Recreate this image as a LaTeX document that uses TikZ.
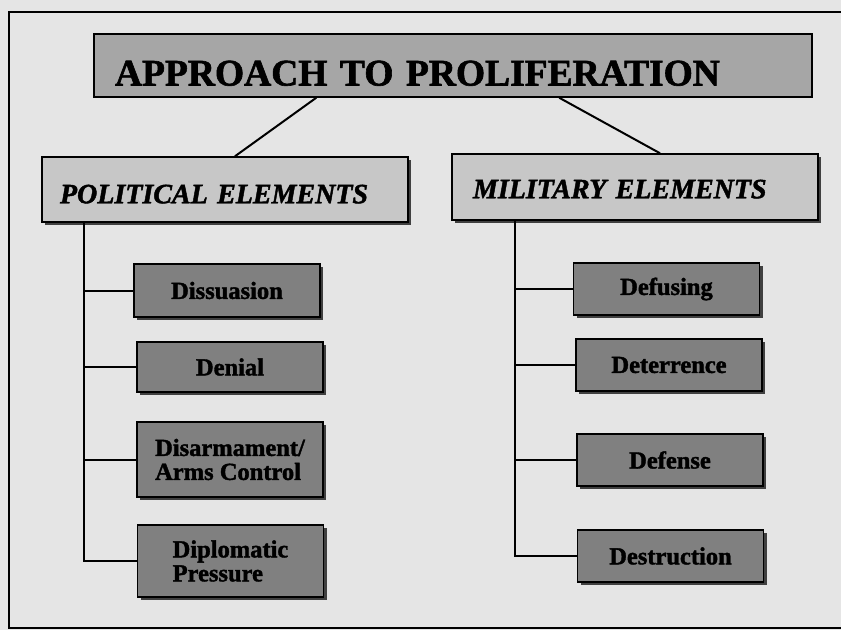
\documentclass[tikz,border=0pt]{standalone}
\usepackage{fontspec}
\setmainfont{Liberation Serif}[BoldFeatures={FakeBold=1.6},BoldItalicFeatures={FakeBold=1.6}]
\usetikzlibrary{shadows}
\begin{document}
\begin{tikzpicture}[x=1pt,y=-1pt,
  box/.style={draw=black,line width=1.5pt,inner sep=0pt},
  shad/.style={drop shadow={shadow xshift=3pt,shadow yshift=-3pt,fill=black!75,opacity=1}},
  titlebox/.style={box,fill=black!35,text width=676pt,inner xsep=21pt,align=left,
    minimum height=63pt,text height=40pt,text depth=0pt,
    font=\fontsize{37.5}{40}\selectfont\bfseries},
  elem/.style={box,shad,fill=black!22,align=left,minimum height=65pt,text depth=0pt,
    font=\fontsize{28}{30}\selectfont\bfseries\itshape},
  item/.style={box,shad,fill=black!50,align=left,minimum width=186pt,
    font=\fontsize{24.5}{24}\selectfont\bfseries},
  link/.style={line width=2pt}]
\fill[black!10] (0,0) rectangle (841,630);
\useasboundingbox (0,0) rectangle (841,630);
\draw[line width=1.5pt] (845,12) -- (9,12) -- (9,628) -- (845,628);

\node[titlebox] (title) at (453,65.5) {APPROACH TO PROLIFERATION};

\node[elem,text width=330pt,inner xsep=18pt,text height=27.5pt] (pol) at (225,189.5) {POLITICAL ELEMENTS};
\node[elem,text width=324pt,inner xsep=21pt,text height=22.5pt,minimum height=66pt] (mil) at (635,187) {MILITARY ELEMENTS};

\node[item,minimum height=53pt] (dis) at (227,290.5) {Dissuasion};
\node[item,minimum height=50pt] (den) at (230,367) {Denial};
\node[item,minimum height=75pt] (arm) at (230,459.5) {Disarmament/\\Arms Control};
\node[item,minimum height=72pt] (dip) at (230.5,561) {Diplomatic\\Pressure};

\node[item,minimum height=52pt] (fus) at (666.5,289) {Defusing};
\node[item,minimum height=52pt] (ter) at (669,365) {Deterrence};
\node[item,minimum height=52pt] (fen) at (670,460) {Defense};
\node[item,minimum height=52pt] (des) at (670.5,556) {Destruction};

\draw[link] ([xshift=223pt]title.south west) -- ([xshift=10pt]pol.north);
\draw[link] ([xshift=466pt]title.south west) -- ([xshift=25pt]mil.north);

\foreach \c in {dis,den,arm,dip}
  \draw[link] ([xshift=43pt]pol.south west) |- (\c.west);
\foreach \c in {fus,ter,fen,des}
  \draw[link] ([xshift=64pt]mil.south west) |- (\c.west);
\end{tikzpicture}
\end{document}
